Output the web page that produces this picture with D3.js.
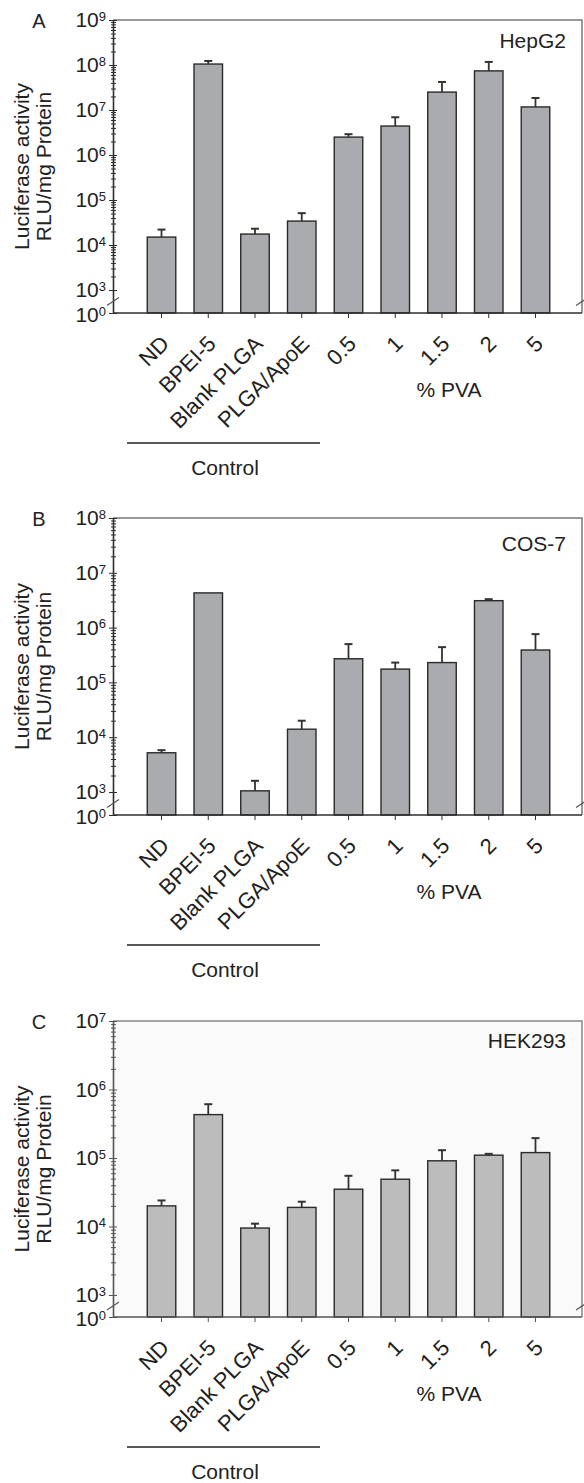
<!DOCTYPE html>
<html lang="en">
<head>
<meta charset="UTF-8">
<title>Luciferase activity</title>
<script src="https://cdn.jsdelivr.net/npm/d3@7"></script>
<style>
    body { margin: 0; background: #fff; }
    text { font-family: "Liberation Sans", Arial, sans-serif; fill: #222; }
</style>
</head>
<body>
<script>
    // categories on the x axis
    const categories = ["ND", "BPEI-5", "Blank PLGA", "PLGA/ApoE", "0.5", "1", "1.5", "2", "5"];

    // mean values (RLU/mg protein) and top of error bar
    const hepg2Mean = [1.5e4, 1.05e8, 1.75e4, 3.4e4, 2.5e6, 4.4e6, 2.5e7, 7.4e7, 1.17e7];
    const hepg2ErrTop = [2.2e4, 1.23e8, 2.3e4, 5.1e4, 2.9e6, 6.9e6, 4.2e7, 1.17e8, 1.85e7];

    const cos7Mean = [5.2e3, 4.3e6, 1.05e3, 1.4e4, 2.7e5, 1.75e5, 2.3e5, 3.1e6, 3.9e5];
    const cos7ErrTop = [5.8e3, 4.3e6, 1.6e3, 2.0e4, 5.0e5, 2.3e5, 4.4e5, 3.3e6, 7.6e5];

    const hek293Mean = [2.0e4, 4.3e5, 9.5e3, 1.9e4, 3.5e4, 4.9e4, 9.1e4, 1.1e5, 1.2e5];
    const hek293ErrTop = [2.4e4, 6.1e5, 1.1e4, 2.3e4, 5.5e4, 6.6e4, 1.3e5, 1.15e5, 1.95e5];

    const width = 584, height = 1483;
    const left = 113, right = 582;

    const panels = [
        { letter: "A", cell: "HepG2", top: 20, bottom: 313, y3: 290, maxExp: 9, mean: hepg2Mean, err: hepg2ErrTop,
          fill: "#a9abae", axis: "#2e2e2e", border: "#7a7a7a", bg: "#fff", cellDy: 28 },
        { letter: "B", cell: "COS-7", top: 518, bottom: 815, y3: 792, maxExp: 8, mean: cos7Mean, err: cos7ErrTop,
          fill: "#a9abae", axis: "#2e2e2e", border: "#7a7a7a", bg: "#fff", cellDy: 33 },
        { letter: "C", cell: "HEK293", top: 1021, bottom: 1317, y3: 1295, maxExp: 7, mean: hek293Mean, err: hek293ErrTop,
          fill: "#bcbcbc", axis: "#555", border: "#888", bg: "#fafafa", cellDy: 27 }
    ];

    const svg = d3.select("body").append("svg")
        .attr("width", width)
        .attr("height", height);

    const x = d3.scaleBand()
        .domain(categories)
        .range([left + 2, right])
        .paddingInner(0.39)
        .paddingOuter(0.69);
    const cx = c => x(c) + x.bandwidth() / 2;

    panels.forEach(p => {
        const g = svg.append("g");
        const rows = categories.map((c, i) => ({ cat: c, mean: p.mean[i], err: p.err[i] }));

        // broken log axis: 10^0 at the bottom, then 10^3 .. 10^max
        const y = d3.scaleLog()
            .domain([1, 1e3, Math.pow(10, p.maxExp)])
            .range([p.bottom, p.y3, p.top]);

        g.append("rect")
            .attr("x", left).attr("y", p.top)
            .attr("width", right - left).attr("height", p.bottom - p.top)
            .attr("fill", p.bg);

        // top and right frame
        g.append("path")
            .attr("d", `M${left},${p.top}H${right}V${p.bottom}`)
            .attr("fill", "none")
            .attr("stroke", p.border)
            .attr("stroke-width", 1.5);

        // bars
        g.selectAll(".bar")
            .data(rows)
            .enter().append("rect")
            .attr("class", "bar")
            .attr("x", d => x(d.cat))
            .attr("width", x.bandwidth())
            .attr("y", d => y(d.mean))
            .attr("height", d => p.bottom - y(d.mean))
            .attr("fill", p.fill)
            .attr("stroke", "#2a2a2a")
            .attr("stroke-width", 1.4);

        // error bars (upper only)
        const eb = g.selectAll(".err")
            .data(rows.filter(d => d.err > d.mean))
            .enter().append("g")
            .attr("class", "err");
        eb.append("line")
            .attr("x1", d => cx(d.cat))
            .attr("x2", d => cx(d.cat))
            .attr("y1", d => y(d.mean))
            .attr("y2", d => y(d.err))
            .attr("stroke", "#333").attr("stroke-width", 1.8);
        eb.append("line")
            .attr("x1", d => cx(d.cat) - 4)
            .attr("x2", d => cx(d.cat) + 4)
            .attr("y1", d => y(d.err))
            .attr("y2", d => y(d.err))
            .attr("stroke", "#333").attr("stroke-width", 2);

        // minor ticks
        const minor = [];
        for (let e = 3; e < p.maxExp; e++) {
            for (let k = 2; k <= 9; k++) minor.push(k * Math.pow(10, e));
        }
        const minorAxis = g.append("g")
            .attr("transform", `translate(${left},0)`)
            .call(d3.axisLeft(y).tickValues(minor).tickSize(2).tickFormat(""));
        minorAxis.select(".domain").remove();
        minorAxis.selectAll(".tick line").attr("x2", -2).attr("x1", 3).attr("stroke", p.axis);

        // major ticks with 10^n labels
        const major = [1];
        for (let e = 3; e <= p.maxExp; e++) major.push(Math.pow(10, e));
        const yAxis = g.append("g")
            .attr("transform", `translate(${left},0)`)
            .call(d3.axisLeft(y).tickValues(major).tickSize(4).tickSizeOuter(0).tickPadding(3));
        yAxis.select(".domain").attr("stroke", p.axis).attr("stroke-width", 1.6);
        yAxis.selectAll(".tick line").attr("x1", 4).attr("stroke", p.axis);
        yAxis.selectAll(".tick text")
            .attr("font-size", 21)
            .attr("dy", d => d === 1 ? "0.42em" : "0.32em")
            .each(function (d) {
                const t = d3.select(this);
                t.text(null);
                t.append("tspan").text("10");
                t.append("tspan")
                    .attr("font-size", 13)
                    .attr("dy", "-0.5em")
                    .text(Math.round(Math.log10(d)));
            });

        // axis break marks
        const mid = (p.bottom + p.y3) / 2;
        [left, right].forEach(bx => {
            g.append("line")
                .attr("x1", bx - 6).attr("y1", mid + 4)
                .attr("x2", bx + 6).attr("y2", mid - 4)
                .attr("stroke", "#555").attr("stroke-width", 1.2);
        });

        // x axis
        const xAxis = g.append("g")
            .attr("transform", `translate(0,${p.bottom})`)
            .call(d3.axisBottom(x).tickSize(5).tickSizeOuter(0).tickFormat(""));
        xAxis.select(".domain")
            .attr("d", `M${left},0H${right}`)
            .attr("stroke", p.axis).attr("stroke-width", 1.6);
        xAxis.selectAll(".tick line").attr("stroke", p.axis);

        g.selectAll(".xlab")
            .data(categories)
            .enter().append("text")
            .attr("class", "xlab")
            .attr("transform", d => `translate(${cx(d) + 9},${p.bottom + 32}) rotate(-45)`)
            .attr("text-anchor", "end")
            .attr("font-size", 22)
            .text(d => d);

        g.append("text")
            .attr("x", 449).attr("y", p.bottom + 84)
            .attr("text-anchor", "middle")
            .attr("font-size", 21)
            .text("% PVA");

        g.append("line")
            .attr("x1", 127).attr("x2", 320)
            .attr("y1", p.bottom + 130).attr("y2", p.bottom + 130)
            .attr("stroke", "#222").attr("stroke-width", 1.3);

        g.append("text")
            .attr("x", 225).attr("y", p.bottom + 162)
            .attr("text-anchor", "middle")
            .attr("font-size", 21)
            .text("Control");

        // y axis title
        const cy = (p.top + p.bottom) / 2;
        g.append("text")
            .attr("transform", `translate(29,${cy}) rotate(-90)`)
            .attr("text-anchor", "middle")
            .attr("font-size", 21)
            .text("Luciferase activity");
        g.append("text")
            .attr("transform", `translate(51,${cy}) rotate(-90)`)
            .attr("text-anchor", "middle")
            .attr("font-size", 21)
            .text("RLU/mg Protein");

        g.append("text")
            .attr("x", 39).attr("y", p.top + 8)
            .attr("text-anchor", "middle")
            .attr("font-size", 20)
            .text(p.letter);

        g.append("text")
            .attr("x", 566).attr("y", p.top + p.cellDy)
            .attr("text-anchor", "end")
            .attr("font-size", 21)
            .text(p.cell);
    });
</script>
</body>
</html>
